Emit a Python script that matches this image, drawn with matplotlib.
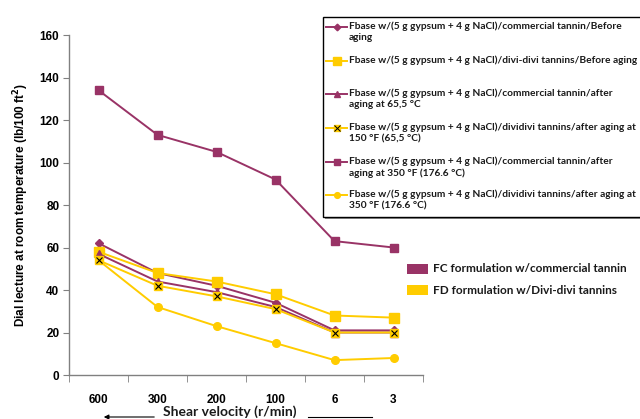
import matplotlib
matplotlib.use("Agg")
import matplotlib.pyplot as plt
from matplotlib.lines import Line2D
from matplotlib.patches import Rectangle, FancyArrowPatch

speeds = ["600", "300", "200", "100", "6", "3"]
comm_before = [62, 48, 42, 34, 21, 21]
divi_before = [58, 48, 44, 38, 28, 27]
comm_150 = [57, 44, 39, 32, 20, 20]
divi_150 = [54, 42, 37, 31, 20, 20]
comm_350 = [134, 113, 105, 92, 63, 60]
divi_350 = [54, 32, 23, 15, 7, 8]

labels = [
    "Fbase w/(5 g gypsum + 4 g NaCl)/commercial tannin/Before\naging",
    "Fbase w/(5 g gypsum + 4 g NaCl)/divi-divi tannins/Before aging",
    "Fbase w/(5 g gypsum + 4 g NaCl)/commercial tannin/after\naging at 65,5 \u00b0C",
    "Fbase w/(5 g gypsum + 4 g NaCl)/dividivi tannins/after aging at\n150 \u00b0F (65,5 \u00b0C)",
    "Fbase w/(5 g gypsum + 4 g NaCl)/commercial tannin/after\naging at 350 \u00b0F (176.6 \u00b0C)",
    "Fbase w/(5 g gypsum + 4 g NaCl)/dividivi tannins/after aging at\n350 \u00b0F (176.6 \u00b0C)",
]

PURPLE = "#993366"
YELLOW = "#FFCC00"

styles = [
    dict(color=PURPLE, marker="D", ms=4.5),
    dict(color=YELLOW, marker="s", ms=7),
    dict(color=PURPLE, marker="^", ms=6),
    dict(color=YELLOW, marker="s", ms=6),
    dict(color=PURPLE, marker="s", ms=5.5),
    dict(color=YELLOW, marker="o", ms=5.5),
]
series = [comm_before, divi_before, comm_150, divi_150, comm_350, divi_350]

fig = plt.figure(figsize=(6.4, 4.19), dpi=100)
ax = fig.add_axes([69 / 640, 1 - 375 / 419, (423 - 69) / 640, (375 - 35) / 419])

x = list(range(len(speeds)))
for vals, st in zip(series, styles):
    ax.plot(x, vals, color=st["color"], lw=1.4, marker=st["marker"], ms=st["ms"],
            mfc=st["color"], mec=st["color"], zorder=3)
# black cross on the 150 F divi-divi markers
ax.plot(x, divi_150, ls="none", marker="x", ms=5, mec="black", mew=0.8, zorder=4)

ax.set_xlim(-0.5, len(speeds) - 0.5)
ax.set_ylim(0, 160)
ax.set_yticks(range(0, 161, 20))
ax.set_xticks(x)
ax.set_xticklabels(speeds)
ax.set_xticks([i - 0.5 for i in range(len(speeds) + 1)], minor=True)
ax.tick_params(axis="x", which="major", length=0, pad=14)
ax.tick_params(axis="x", which="minor", length=5, direction="out", color="#808080")
ax.tick_params(axis="y", length=4, direction="out", color="#808080", pad=3)
for lab in ax.get_xticklabels() + ax.get_yticklabels():
    lab.set_fontfamily("Liberation Sans")
    lab.set_fontweight("bold")
    lab.set_fontsize(8.5)
for s in ["top", "right"]:
    ax.spines[s].set_visible(False)
for s in ["left", "bottom"]:
    ax.spines[s].set_color("#808080")
    ax.spines[s].set_linewidth(1.0)

ax.set_ylabel("Dial lecture at room temperature (lb/100 ft$^\\mathbf{2}$)",
              fontfamily="Liberation Sans", fontweight="bold", fontsize=8.5, labelpad=6)

# x label with arrows
fig.text(230 / 640, 1 - 412 / 419, "Shear velocity (r/min)", ha="center", va="center",
         fontfamily="Lato", fontweight="bold", fontsize=10, color="#1a1a1a")
fig.add_artist(FancyArrowPatch((157 / 640, 1 - 417 / 419), (101 / 640, 1 - 417 / 419),
                               transform=fig.transFigure, arrowstyle="-|>", mutation_scale=7,
                               color="black", lw=0.8))
fig.add_artist(Line2D([308 / 640, 372 / 640], [1 - 417 / 419, 1 - 417 / 419],
                      transform=fig.transFigure, color="black", lw=0.8))

# legend box
fig.add_artist(Rectangle((325 / 640, 1 - 219 / 419), 330 / 640, 202 / 419,
                         transform=fig.transFigure, facecolor="#909090", edgecolor="none", zorder=5))
fig.add_artist(Rectangle((323 / 640, 1 - 217 / 419), 330 / 640, 200 / 419,
                         transform=fig.transFigure, facecolor="white", edgecolor="black", lw=1, zorder=6))
rows = [27, 61, 94, 128, 162, 195]
for y, lab, st in zip(rows, labels, styles):
    yf = 1 - y / 419
    fig.add_artist(Line2D([326 / 640, 347 / 640], [yf, yf], transform=fig.transFigure,
                          color=st["color"], lw=1.4, zorder=7))
    fig.add_artist(Line2D([337 / 640], [yf], transform=fig.transFigure, ls="none",
                          marker=st["marker"], ms=st["ms"] * 0.75, mfc=st["color"],
                          mec=st["color"], zorder=7))
    fig.text(349 / 640, 1 - (y - 5.5) / 419, lab, ha="left", va="top", fontfamily="Lato",
             fontweight="bold", fontsize=7.25, linespacing=1.3, color="#1a1a1a", zorder=8)
fig.add_artist(Line2D([337 / 640], [1 - 128 / 419], transform=fig.transFigure, ls="none",
                      marker="x", ms=4, mec="black", mew=0.7, zorder=7))

# formulation colour key
for y, col, txt in [(269, PURPLE, "FC formulation w/commercial tannin"),
                    (290, YELLOW, "FD formulation w/Divi-divi tannins")]:
    fig.add_artist(Rectangle((407 / 640, 1 - (y + 5) / 419), 21 / 640, 10 / 419,
                             transform=fig.transFigure, facecolor=col, edgecolor="none"))
    fig.text(433 / 640, 1 - y / 419, txt, ha="left", va="center", fontfamily="Lato",
             fontweight="bold", fontsize=8.5, color="#1a1a1a")

fig.savefig("out.png", dpi=100)
